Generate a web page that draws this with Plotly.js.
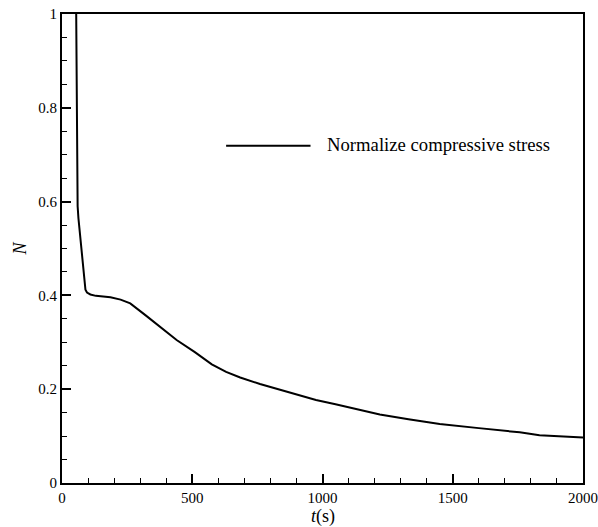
<!DOCTYPE html>
<html>
<head>
<meta charset="utf-8">
<script src="https://cdn.plot.ly/plotly-3.0.1.min.js"></script>
<style>html,body{margin:0;padding:0;background:#fff;}#chart{width:598px;height:527px;}</style>
</head>
<body>
<div id="chart"></div>
<script>
const timeS = [54.5, 56, 57, 58, 60, 63, 67, 71, 75, 79, 83.5, 87, 90, 96, 109, 130, 160, 186, 225, 262, 320, 377, 440, 510, 575, 630, 684, 760, 840, 914, 975, 1050, 1130, 1220, 1330, 1450, 1600, 1757, 1833, 1920, 2000];
const normStress = [1.0, 0.80, 0.70, 0.62, 0.59, 0.565, 0.54, 0.518, 0.495, 0.467, 0.439, 0.423, 0.412, 0.406, 0.402, 0.399, 0.398, 0.396, 0.391, 0.383, 0.358, 0.333, 0.305, 0.279, 0.253, 0.237, 0.225, 0.211, 0.198, 0.187, 0.177, 0.168, 0.157, 0.146, 0.136, 0.126, 0.117, 0.108, 0.102, 0.099, 0.097];
const seriesName = "Normalize compressive stress";
const xTitle = "<i>t</i>(s)";
const yTitle = "<i>N</i>";

const fam = "'Times New Roman', 'Liberation Serif', 'DejaVu Serif', serif";
const font = {family: fam, size: 15, color: "#000"};
const axisCommon = {
  showgrid: false, zeroline: false, showline: true, mirror: true,
  linecolor: "#000", linewidth: 2,
  ticks: "inside", ticklen: 9, tickwidth: 2, tickcolor: "#000",
  tickfont: font,
  minor: {ticks: "inside", ticklen: 5, tickwidth: 1, tickcolor: "#000", showgrid: false}
};

const trace = {
  x: timeS, y: normStress, type: "scatter", mode: "lines",
  name: seriesName, line: {color: "#000", width: 2},
  showlegend: false
};

const layout = {
  width: 598, height: 527,
  margin: {l: 61.5, r: 14.5, t: 14, b: 44},
  paper_bgcolor: "#fff", plot_bgcolor: "#fff",
  font: font,
  xaxis: Object.assign({}, axisCommon, {
    range: [0, 2000], dtick: 500, tick0: 0,
    minor: Object.assign({}, axisCommon.minor, {dtick: 100})
  }),
  yaxis: Object.assign({}, axisCommon, {
    range: [0, 1], dtick: 0.2, tick0: 0,
    minor: Object.assign({}, axisCommon.minor, {dtick: 0.05}),
    title: {text: yTitle, font: {family: fam, size: 18, color: "#000"}, standoff: 7}
  }),
  shapes: [{
    type: "line", xref: "paper", yref: "paper",
    x0: 0.315, x1: 0.477, y0: 0.719, y1: 0.719,
    line: {color: "#000", width: 2}
  }],
  annotations: [{
    text: seriesName, xref: "paper", yref: "paper",
    x: 0.505, y: 0.722, xanchor: "left", yanchor: "middle",
    showarrow: false, font: {family: fam, size: 18.7, color: "#000"}
  }, {
    text: xTitle, xref: "paper", yref: "paper",
    x: 0.5, y: -0.071, xanchor: "center", yanchor: "middle",
    showarrow: false, font: {family: fam, size: 18, color: "#000"}
  }]
};

Plotly.newPlot("chart", [trace], layout, {displayModeBar: false, staticPlot: true});
</script>
</body>
</html>
